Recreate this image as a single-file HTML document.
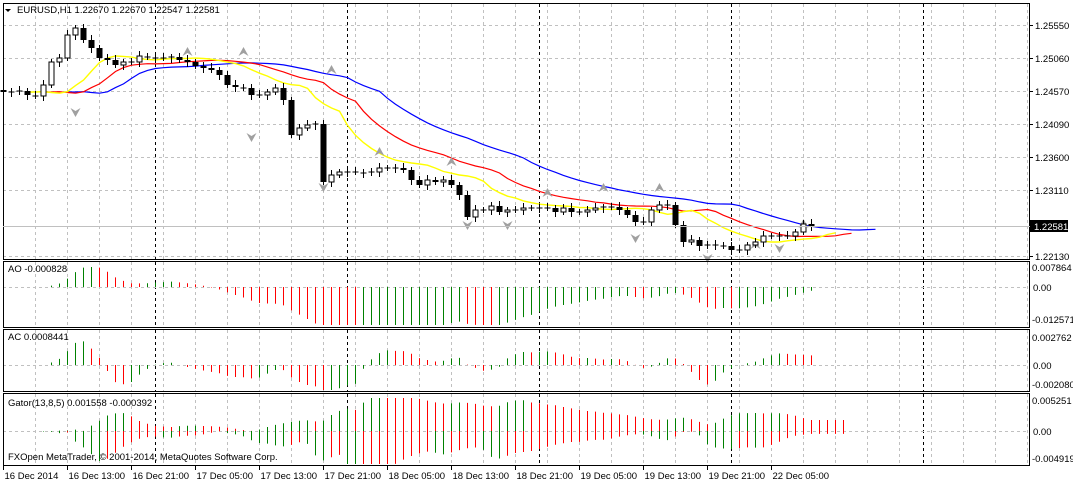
<!DOCTYPE html>
<html><head><meta charset="utf-8"><style>
body{margin:0;background:#fff;width:1073px;height:483px;overflow:hidden;font-family:"Liberation Sans",sans-serif}
svg{position:absolute;left:0;top:0}
text{font-family:"Liberation Sans",sans-serif;font-size:9.5px;fill:#000}
</style></head><body>
<svg id="s" width="1073" height="483" xmlns="http://www.w3.org/2000/svg">
<g id="grid"></g><g id="ser"></g>
<rect x="3.5" y="3.5" width="1026" height="256" fill="none" stroke="#000"/>
<rect x="3.5" y="261.5" width="1026" height="66" fill="none" stroke="#000"/>
<rect x="3.5" y="329.5" width="1026" height="62" fill="none" stroke="#000"/>
<rect x="3.5" y="393.5" width="1026" height="72" fill="none" stroke="#000"/>
<line x1="3" y1="226.5" x2="1030" y2="226.5" stroke="#c0c0c0"/>
<path d="M5 9 L11 9 L8 12 Z" fill="#000"/>
<text x="17" y="13">EURUSD,H1  1.22670 1.22670 1.22547 1.22581</text>
<text x="8" y="272">AO -0.000828</text>
<text x="8" y="340">AC 0.0008441</text>
<text x="8" y="406">Gator(13,8,5) 0.001558 -0.000392</text>
<text x="8" y="460">FXOpen MetaTrader, © 2001-2014, MetaQuotes Software Corp.</text>
<g id="ax"></g>
<rect x="1030" y="220" width="38" height="12" fill="#000"/>
<text x="1034" y="230" style="fill:#fff">1.22581</text>
</svg>
<script>
var NS="http://www.w3.org/2000/svg";
function el(p,t,a){var e=document.createElementNS(NS,t);for(var k in a)e.setAttribute(k,a[k]);p.appendChild(e);return e;}
var G=document.getElementById('grid'),S=document.getElementById('ser'),A=document.getElementById('ax');
var panels=[[4,259],[262,327],[330,391],[394,465]];
for(var x=35.5;x<1030;x+=32){panels.forEach(function(p){el(G,'line',{x1:x,y1:p[0],x2:x,y2:p[1],stroke:'#c0c0c0','stroke-dasharray':'3,3'});});}
[155.5,347.5,539.5,731.5,923.5].forEach(function(x){panels.forEach(function(p){el(G,'line',{x1:x,y1:p[0],x2:x,y2:p[1],stroke:'#000','stroke-dasharray':'3,3'});});});
var hl=[[25,'1.25550'],[58,'1.25060'],[91,'1.24570'],[124,'1.24090'],[157,'1.23600'],[190,'1.23110'],[256,'1.22130']];
hl.forEach(function(h){el(G,'line',{x1:3,y1:h[0]+.5,x2:1030,y2:h[0]+.5,stroke:'#c0c0c0','stroke-dasharray':'3,3'});el(A,'line',{x1:1030,y1:h[0]+.5,x2:1033,y2:h[0]+.5,stroke:'#000'});var t=el(A,'text',{x:1035,y:h[0]+4});t.textContent=h[1];});
[[287,'0.00'],[365,'0.00'],[431,'0.00']].forEach(function(h){el(G,'line',{x1:3,y1:h[0]+.5,x2:1030,y2:h[0]+.5,stroke:'#c0c0c0','stroke-dasharray':'3,3'});var t=el(A,'text',{x:1033,y:h[0]+4});t.textContent=h[1];});
[[271,'0.007864'],[323,'-0.012571'],[341,'0.002762'],[388,'-0.002080'],[404,'0.005251'],[462,'-0.004919']].forEach(function(h){var t=el(A,'text',{x:1032,y:h[0]});t.textContent=h[1];});
var tl=['16 Dec 2014','16 Dec 13:00','16 Dec 21:00','17 Dec 05:00','17 Dec 13:00','17 Dec 21:00','18 Dec 05:00','18 Dec 13:00','18 Dec 21:00','19 Dec 05:00','19 Dec 13:00','19 Dec 21:00','22 Dec 05:00'];
tl.forEach(function(s,i){var x=3.5+64*i;el(A,'line',{x1:x,y1:466,x2:x,y2:470,stroke:'#000'});var t=el(A,'text',{x:x+1,y:479});t.textContent=s;});
var C=[92,92,91,95,96,85,62,58,35,28,40,48,58,60,65,62,62,56,57,58,58,57,60,62,66,68,70,75,85,87,88,95,95,92,88,100,135,128,125,124,182,175,172,172,172,173,172,168,168,168,170,180,185,180,182,180,185,195,217,210,210,206,212,210,210,208,208,208,208,212,208,212,212,210,208,207,207,210,215,222,222,210,205,205,225,242,240,246,245,245,246,250,250,245,242,236,236,236,236,232,224,226];
var n=C.length,O=[];
for(var i=0;i<n;i++){O[i]=i?C[i-1]:90;}
function X(i){return 3.5+8*i;}
function smma(p){var r=[],s=0;for(var i=0;i<n;i++){if(i<p){s+=C[i];r[i]=s/(i+1);}else r[i]=(r[i-1]*(p-1)+C[i])/p;}return r;}
var jaw=smma(13),teeth=smma(8),lips=smma(5);
function line(arr,sh,col,w){var pts=[];for(var i=0;i<n;i++){pts.push(X(i+sh)+','+arr[i].toFixed(1));}el(S,'polyline',{points:pts.join(' '),fill:'none',stroke:col,'stroke-width':w});}
line(jaw,8,'#0000ff',1.2);line(teeth,5,'#ff0000',1.2);line(lips,3,'#ffff00',1.4);
var fr=[[23,52,1],[30,52,1],[41,70,1],[9,112,0],[31,137,0],[40,187,0],[47,152,1],[56,162,1],[58,225,0],[63,225,0],[68,193,1],[75,188,1],[79,238,0],[82,188,1],[88,258,0],[94,245,1],[97,248,0],[100,224,1]];
fr.forEach(function(f){var x=X(f[0]),y=f[1];if(f[2])el(S,'path',{d:'M'+(x-5)+' '+(y+4)+' L'+x+' '+(y-5)+' L'+(x+5)+' '+(y+4)+' L'+x+' '+(y+1)+'Z',fill:'#a0a0a0'});else el(S,'path',{d:'M'+(x-5)+' '+(y-4)+' L'+x+' '+(y+5)+' L'+(x+5)+' '+(y-4)+' L'+x+' '+(y-1)+'Z',fill:'#a0a0a0'});});
for(var i=0;i<n;i++){var x=X(i),o=O[i],c=C[i],t=Math.min(o,c),b=Math.max(o,c);var h=Math.abs(o-c);
el(S,'line',{x1:x,y1:t-3-(i%3),x2:x,y2:b+3+(i%2)*2,stroke:'#000'});
if(h<1.5)el(S,'line',{x1:x-3,y1:c,x2:x+3,y2:c,stroke:'#000'});
else if(c<o)el(S,'rect',{x:x-2.5,y:t,width:5,height:h,fill:'#fff',stroke:'#000'});
else el(S,'rect',{x:x-3,y:t,width:6,height:h,fill:'#000'});}
function sma(a,p,i){var s=0,k=0;for(var j=Math.max(0,i-p+1);j<=i;j++){s+=a[j];k++;}return s/k;}
var ao=[];for(var i=0;i<n;i++)ao[i]=sma(C,34,i)-sma(C,5,i);
var ac=[];for(var i=0;i<n;i++)ac[i]=ao[i]-sma(ao,5,i);
for(var i=0;i<n;i++){var x=X(i);
var v=ao[i]*0.75;v=Math.max(-38,Math.min(23,v));
el(S,'line',{x1:x,y1:287,x2:x,y2:287-v,stroke:(i&&ao[i]>ao[i-1])?'#008000':'#ff0000'});
var w=ac[i]*1.8;w=Math.max(-25,Math.min(33,w));
el(S,'line',{x1:x,y1:365,x2:x,y2:365-w,stroke:(i&&ac[i]>ac[i-1])?'#008000':'#ff0000'});}
var up=[],dn=[];for(var i=0;i<n;i++){var j=i-8>=0?jaw[i-8]:jaw[0],kt=i-5>=0?teeth[i-5]:teeth[0],kl=i-3>=0?lips[i-3]:lips[0];up[i]=Math.abs(j-kt);dn[i]=Math.abs(kt-kl);}
for(var i=0;i<n+4;i++){var x=X(i);var ii=Math.min(i,n-1);
var u=Math.min(33,up[ii]*1.1),d=Math.min(33,dn[ii]*1.4);
el(S,'line',{x1:x,y1:431,x2:x,y2:431-u,stroke:(ii&&up[ii]>=up[ii-1])?'#008000':'#ff0000'});
el(S,'line',{x1:x,y1:431,x2:x,y2:431+d,stroke:(ii&&dn[ii]>=dn[ii-1])?'#008000':'#ff0000'});}
</script>
</body></html>
